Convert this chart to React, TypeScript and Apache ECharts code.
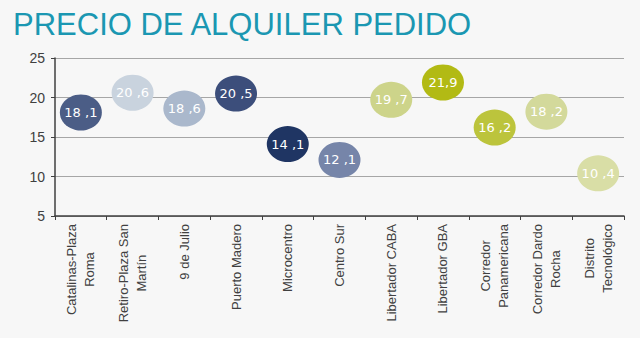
import React, { useEffect, useRef } from "react";
import * as echarts from "echarts";

const TITLE = "PRECIO DE ALQUILER PEDIDO";
const categories = [
  "Catalinas-Plaza\nRoma",
  "Retiro-Plaza San\nMartín",
  "9 de Julio",
  "Puerto Madero",
  "Microcentro",
  "Centro Sur",
  "Libertador CABA",
  "Libertador GBA",
  "Corredor\nPanamericana",
  "Corredor Dardo\nRocha",
  "Distrito\nTecnológico",
];
const values = [18.1, 20.6, 18.6, 20.5, 14.1, 12.1, 19.7, 21.9, 16.2, 18.2, 10.4];
const valueLabels = ["18 ,1", "20 ,6", "18 ,6", "20 ,5", "14 ,1", "12 ,1", "19 ,7", "21,9", "16 ,2", "18 ,2", "10 ,4"];
const colors = [
  "#4b5d86",
  "#c9d3de",
  "#aab8cc",
  "#3c4e7b",
  "#1f3563",
  "#7685a9",
  "#cdd48a",
  "#b2ba14",
  "#bcc43c",
  "#d3d99b",
  "#d9dea6",
];
const yTicks = { min: 5, max: 25, interval: 5 };

export default function App() {
  const ref = useRef<HTMLDivElement>(null);
  useEffect(() => {
    if (!ref.current) return;
    const chart = echarts.init(ref.current, null, { renderer: "svg" });
    chart.setOption({
      animation: false,
      backgroundColor: "#f7f7f7",
      title: {
        text: TITLE,
        left: 8,
        top: 4,
        textStyle: {
          fontFamily: "Liberation Sans, Arial, sans-serif",
          fontSize: 31,
          fontWeight: "normal",
          color: "#1b97b2",
        },
      },
      grid: { left: 55, right: 16, top: 58, bottom: 122 },
      xAxis: {
        type: "category",
        data: categories,
        boundaryGap: true,
        axisLine: { lineStyle: { color: "#404040", width: 1.5 } },
        axisTick: { show: true, length: 4, lineStyle: { color: "#404040" } },
        axisLabel: {
          rotate: 90,
          margin: 8,
          interval: 0,
          formatter: (v: string) =>
            v
              .split("\n")
              .map((s) => `{a|${s}}`)
              .join("\n"),
          rich: {
            a: {
              align: "center",
              fontFamily: "Liberation Sans, Arial, sans-serif",
              fontSize: 13,
              color: "#404040",
              lineHeight: 18,
            },
          },
        },
      },
      yAxis: {
        type: "value",
        min: yTicks.min,
        max: yTicks.max,
        interval: yTicks.interval,
        axisLine: { show: true, lineStyle: { color: "#404040", width: 1.5 } },
        axisTick: { show: true, length: 4, lineStyle: { color: "#404040" } },
        axisLabel: {
          margin: 10,
          fontFamily: "Liberation Sans, Arial, sans-serif",
          fontSize: 14,
          color: "#404040",
        },
        splitLine: { lineStyle: { color: "#a6a6a6", width: 1 } },
      },
      series: [
        {
          type: "scatter",
          symbol: "circle",
          symbolSize: [42, 36],
          data: values.map((v, i) => ({
            value: v,
            itemStyle: { color: colors[i], opacity: 1 },
            label: { formatter: valueLabels[i] },
          })),
          label: {
            show: true,
            position: "inside",
            color: "#ffffff",
            fontFamily: "DejaVu Sans, sans-serif",
            fontSize: 13,
          },
          emphasis: { disabled: true },
        },
      ],
    });
    return () => chart.dispose();
  }, []);
  return (
    <div
      ref={ref}
      style={{ position: "absolute", left: 0, top: 0, width: 640, height: 338 }}
    />
  );
}
